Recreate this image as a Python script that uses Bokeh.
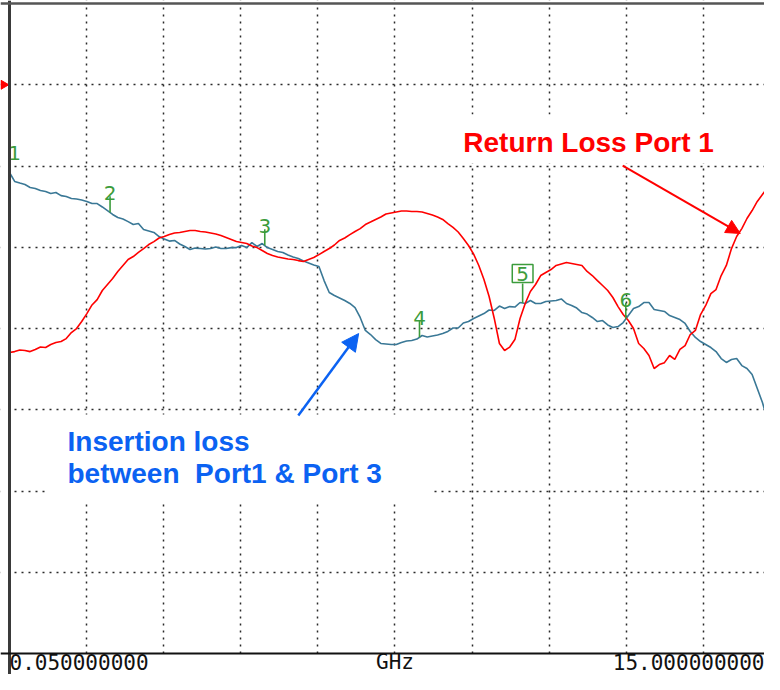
import numpy as np
from bokeh.plotting import figure
from bokeh.models import Range1d, FixedTicker, Span, Label, Arrow, NormalHead
from bokeh.core.properties import value
from bokeh.embed import file_html
from bokeh.resources import INLINE

freq_ghz = [
    0.05, 0.15, 0.25, 0.35, 0.45, 0.55, 0.65, 0.75, 0.85, 0.95,
    1.05, 1.15, 1.25, 1.35, 1.45, 1.55, 1.65, 1.75, 1.85, 1.95,
    2.05, 2.15, 2.25, 2.35, 2.45, 2.55, 2.65, 2.75, 2.85, 2.95,
    3.05, 3.15, 3.25, 3.35, 3.45, 3.55, 3.65, 3.75, 3.85, 3.95,
    4.05, 4.15, 4.25, 4.35, 4.45, 4.55, 4.65, 4.75, 4.85, 4.95,
    5.05, 5.15, 5.25, 5.35, 5.45, 5.55, 5.65, 5.75, 5.85, 5.95,
    6.05, 6.15, 6.25, 6.35, 6.45, 6.55, 6.65, 6.75, 6.85, 6.95,
    7.05, 7.15, 7.25, 7.35, 7.45, 7.55, 7.65, 7.75, 7.85, 7.95,
    8.05, 8.15, 8.25, 8.35, 8.45, 8.55, 8.65, 8.75, 8.85, 8.95,
    9.05, 9.15, 9.25, 9.35, 9.45, 9.55, 9.65, 9.75, 9.85, 9.95,
    10.05, 10.15, 10.25, 10.35, 10.45, 10.55, 10.65, 10.75, 10.85, 10.95,
    11.05, 11.15, 11.25, 11.35, 11.45, 11.55, 11.65, 11.75, 11.85, 11.95,
    12.05, 12.15, 12.25, 12.35, 12.45, 12.55, 12.65, 12.75, 12.85, 12.95,
    13.05, 13.15, 13.25, 13.35, 13.45, 13.55, 13.65, 13.75, 13.85, 13.95,
    14.05, 14.15, 14.25, 14.35, 14.45, 14.55, 14.65, 14.75, 14.85, 14.95,
    15.0,
]

insertion_loss_db = [
    -5.40, -5.95, -6.05, -6.14, -6.32, -6.38, -6.51, -6.57, -6.69, -6.63,
    -6.82, -6.88, -7.00, -7.03, -7.09, -7.18, -7.31, -7.31, -7.52, -7.74,
    -7.98, -8.17, -8.26, -8.42, -8.60, -8.54, -8.91, -9.00, -9.09, -9.34,
    -9.49, -9.62, -9.58, -9.80, -9.95, -10.14, -10.05, -10.08, -10.11, -10.08,
    -9.98, -10.08, -10.08, -10.02, -10.02, -9.89, -10.02, -9.71, -9.95, -9.77,
    -10.02, -10.14, -10.26, -10.32, -10.48, -10.60, -10.69, -10.85, -10.97, -11.09,
    -11.18, -12.05, -12.78, -12.97, -13.12, -13.28, -13.46, -13.71, -14.32, -15.12,
    -15.37, -15.68, -15.92, -15.95, -15.98, -15.98, -15.86, -15.77, -15.74, -15.65,
    -15.43, -15.52, -15.46, -15.40, -15.31, -15.18, -14.97, -14.97, -14.66, -14.57,
    -14.38, -14.23, -14.08, -13.86, -13.89, -13.62, -13.77, -13.65, -13.68, -13.40,
    -13.46, -13.28, -13.46, -13.46, -13.34, -13.31, -13.28, -13.18, -13.46, -13.58,
    -13.74, -14.02, -14.11, -14.32, -14.57, -14.51, -14.78, -14.94, -14.88, -14.63,
    -14.20, -13.77, -13.65, -13.40, -13.40, -13.83, -13.89, -13.95, -14.20, -14.32,
    -14.45, -14.69, -15.18, -15.55, -15.80, -15.98, -16.17, -16.42, -16.85, -17.09,
    -16.91, -16.85, -17.28, -17.46, -17.83, -18.69, -19.55, -20.66, -22.02, -24.05,
    -24.66,
]

return_loss_db = [
    -16.48, -16.42, -16.32, -16.35, -16.42, -16.29, -16.14, -16.17, -15.98, -15.86,
    -15.80, -15.62, -15.25, -15.00, -14.57, -14.08, -13.55, -13.22, -12.66, -12.29,
    -11.92, -11.49, -11.12, -10.75, -10.57, -10.32, -10.08, -9.83, -9.65, -9.43,
    -9.34, -9.22, -9.12, -9.09, -9.03, -8.97, -8.97, -9.03, -9.06, -9.12,
    -9.18, -9.28, -9.40, -9.52, -9.65, -9.71, -9.77, -9.92, -10.02, -10.20,
    -10.38, -10.51, -10.60, -10.66, -10.72, -10.75, -10.82, -10.88, -10.75, -10.63,
    -10.45, -10.26, -10.08, -9.86, -9.58, -9.43, -9.22, -9.03, -8.85, -8.60,
    -8.45, -8.29, -8.14, -7.95, -7.89, -7.83, -7.77, -7.77, -7.80, -7.80,
    -7.83, -7.92, -8.02, -8.14, -8.29, -8.54, -8.78, -9.06, -9.46, -9.89,
    -10.42, -11.12, -11.98, -13.03, -14.38, -15.92, -16.35, -16.14, -15.68, -14.38,
    -13.46, -12.72, -12.29, -11.74, -11.55, -11.37, -11.12, -11.03, -10.94, -11.00,
    -11.06, -11.12, -11.49, -11.74, -12.05, -12.35, -12.66, -13.09, -13.65, -14.14,
    -14.51, -15.00, -15.92, -16.23, -16.66, -17.46, -17.22, -17.10, -16.66, -16.90,
    -16.29, -16.05, -15.37, -15.12, -14.14, -13.58, -12.85, -12.60, -11.74, -11.12,
    -10.08, -9.34, -8.85, -8.23, -7.74, -7.18, -6.75, -6.32, -5.77, -5.28,
    -5.09,
]

marker_ids = ["1", "2", "3", "4", "5", "6"]
marker_freq_ghz = [0.05, 2.0, 5.0, 8.0, 10.0, 12.0]
active_marker = "5"
reference_level_db = 0.0

start_label = "0.050000000"
center_label = "GHz"
stop_label = "15.000000000"

annot_rl = "Return Loss Port 1"
annot_il_1 = "Insertion loss"
annot_il_2 = "between\u00a0 Port1 & Port 3"

# ---------------- style ----------------
TRACE_BLUE = "#3a7896"
TRACE_RED = "#ff0000"
MARK_GREEN = "#3c9c3c"
TEXT_BLUE = "#0b62f2"
GRID = "#2a2a2a"

marker_label_dx = [5, 0, 0, 0, 0, 0]
marker_tick_db = [1.0, 1.0, 1.0, 1.0, 1.2, 1.0]

f_start, f_stop = 0.05, 15.0
ref_top, ref_bottom = 5.0, -35.0
n_xdiv, n_ydiv = 10, 8

# view window (the graticule starts 9 px from the left, 3 px from the top)
x_lo, x_hi = -0.1245, 14.69
y_lo, y_hi = -36.29, 5.185

p = figure(width=764, height=674, output_backend="svg", toolbar_location=None,
           x_range=Range1d(x_lo, x_hi), y_range=Range1d(y_lo, y_hi),
           min_border_left=0, min_border_right=0, min_border_top=0,
           min_border_bottom=0)
p.outline_line_color = None
p.background_fill_color = "white"
p.border_fill_color = "white"
p.xaxis.visible = False
p.yaxis.visible = False

xstep = (f_stop - f_start) / n_xdiv
ystep = (ref_top - ref_bottom) / n_ydiv
p.xgrid.ticker = FixedTicker(ticks=[f_start + i * xstep for i in range(1, n_xdiv)])
p.ygrid.ticker = FixedTicker(ticks=[ref_top - j * ystep for j in range(1, n_ydiv)])
for g in (p.xgrid, p.ygrid):
    g.grid_line_color = GRID
    g.grid_line_dash = "2 5"
    g.grid_line_width = 1.5

# white margins outside the graticule + boxes behind the annotation texts
p.quad(left=[x_lo, x_lo, x_lo, 8.45, 0.75],
       right=[f_start, x_hi, x_hi, 14.03, 8.21],
       top=[y_hi, y_hi, ref_bottom, -1.83, -20.29],
       bottom=[y_lo, ref_top, y_lo, -4.85, -25.58],
       fill_color="white", line_color=None)

# traces
p.line(freq_ghz, insertion_loss_db, line_color=TRACE_BLUE, line_width=1.6)
p.line(freq_ghz, return_loss_db, line_color=TRACE_RED, line_width=1.6)

# frame borders
p.add_layout(Span(location=f_start, dimension="height", line_color="#3a3a3a", line_width=3))
p.add_layout(Span(location=ref_top, dimension="width", line_color="#555555", line_width=2.5))
p.add_layout(Span(location=ref_bottom, dimension="width", line_color="#111111", line_width=2))

# reference level pointer
p.scatter(x=[x_lo + 0.06], y=[reference_level_db], marker="triangle", angle=-np.pi / 2,
          size=9, fill_color="#ff0000", line_color="#ff0000")

# markers on insertion-loss trace
mk_y = np.interp(marker_freq_ghz, freq_ghz, insertion_loss_db)
mk_top = mk_y + np.array(marker_tick_db)
p.segment(x0=marker_freq_ghz, y0=list(mk_y), x1=marker_freq_ghz,
          y1=list(mk_top), line_color=MARK_GREEN, line_width=1.6)
plain = [i for i, m in enumerate(marker_ids) if m != active_marker]
boxed = [i for i, m in enumerate(marker_ids) if m == active_marker]
p.text(x=[marker_freq_ghz[i] for i in plain], y=[mk_top[i] for i in plain],
       text=[marker_ids[i] for i in plain], x_offset=[marker_label_dx[i] for i in plain],
       y_offset=-3, text_align="center", text_baseline="alphabetic",
       text_font=value("DejaVu Sans"), text_font_size="20px", text_color=MARK_GREEN)
p.text(x=[marker_freq_ghz[i] for i in boxed], y=[mk_top[i] for i in boxed],
       text=[marker_ids[i] for i in boxed], y_offset=-10, text_align="center",
       text_baseline="alphabetic", text_font=value("DejaVu Sans"), text_font_size="20px",
       text_color=MARK_GREEN, border_line_color=MARK_GREEN, border_line_width=1.5,
       background_fill_color="white", padding=(4, 2))

# annotations
p.add_layout(Label(x=8.85, y=-3.55, text=annot_rl, text_font="Liberation Sans",
                   text_font_style="bold", text_font_size="28px", text_color="#ff0000",
                   text_baseline="alphabetic"))
p.add_layout(Label(x=1.175, y=-21.98, text=annot_il_1, text_font="Liberation Sans",
                   text_font_style="bold", text_font_size="28px", text_color=TEXT_BLUE,
                   text_baseline="alphabetic"))
p.add_layout(Label(x=1.175, y=-23.9, text=annot_il_2, text_font="Liberation Sans",
                   text_font_style="bold", text_font_size="28px", text_color=TEXT_BLUE,
                   text_baseline="alphabetic"))
p.add_layout(Arrow(end=NormalHead(size=14, fill_color="#ff0000", line_color="#ff0000"),
                   x_start=11.94, y_start=-4.97, x_end=14.22, y_end=-9.15,
                   line_color="#ff0000", line_width=2))
p.add_layout(Arrow(end=NormalHead(size=17, fill_color=TEXT_BLUE, line_color=TEXT_BLUE),
                   x_start=5.65, y_start=-20.35, x_end=6.82, y_end=-15.31,
                   line_color=TEXT_BLUE, line_width=2.5))

# frequency labels under the graticule
lab_y = -35.55
for x, t, a in ((f_start, start_label, "left"), ((f_start + f_stop) / 2, center_label, "center"),
                (x_hi, stop_label, "right")):
    p.add_layout(Label(x=x, y=lab_y, text=t, text_font="DejaVu Sans Mono",
                       text_font_size="21px", text_align=a, text_baseline="alphabetic",
                       text_color="#111111"))

open("out.html", "w").write(file_html(p, INLINE))
